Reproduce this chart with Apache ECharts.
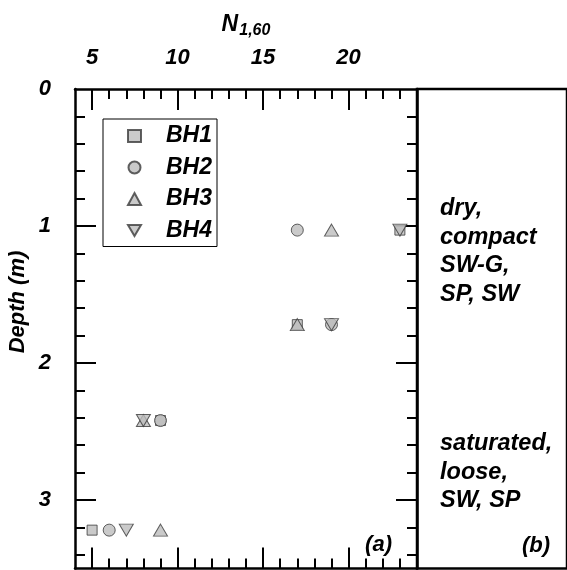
<!DOCTYPE html>
<html>
<head>
<meta charset="utf-8">
<script src="https://cdn.jsdelivr.net/npm/echarts@6/dist/echarts.min.js"></script>
<style>
  html, body { margin: 0; padding: 0; background: #fff; }
  #chart { width: 567px; height: 570px; }
</style>
</head>
<body>
<div id="chart"></div>
<script>
// SPT blow counts N1,60 against depth for four boreholes
const depths = [1.03, 1.72, 2.42, 3.22];
const bh1 = [23, 17, 9, 5];
const bh2 = [17, 19, 9, 6];
const bh3 = [19, 17, 8, 9];
const bh4 = [23, 19, 8, 7];

const xTickLabels = [5, 10, 15, 20];
const yTickLabels = [0, 1, 2, 3];
const xMinorTicks = [5, 6, 7, 8, 9, 10, 11, 12, 13, 14, 15, 16, 17, 18, 19, 20, 21, 22, 23];
const yMinorTicks = [0.2, 0.4, 0.6, 0.8, 1.2, 1.4, 1.6, 1.8, 2.2, 2.4, 2.6, 2.8, 3.2, 3.4];
const yMajorTicks = [1, 2, 3];

const FONT = '"Liberation Sans", Arial, sans-serif';
const boldItalic = { fontFamily: FONT, fontWeight: 'bold', fontStyle: 'italic', color: '#000' };
const frameLine = { show: true, onZero: false, lineStyle: { color: '#000', width: 2.5 } };
const noLine = { show: false, onZero: false };
const tickLine = { color: '#000', width: 2 };

function pairs(xs) { return xs.map((x, i) => [x, depths[i]]); }

const markerStyle = { color: '#bdbdbd', borderColor: '#3a3a3a', borderWidth: 1 };

function xAxisDef(position, ticks, len, withLine, extra) {
  return Object.assign({
    type: 'value', gridIndex: 0, position: position, min: 4, max: 24,
    axisLine: withLine ? frameLine : noLine,
    axisTick: { show: true, inside: true, length: len, customValues: ticks, lineStyle: tickLine },
    axisLabel: { show: false },
    splitLine: { show: false }
  }, extra || {});
}
function yAxisDef(position, ticks, len, withLine, extra) {
  return Object.assign({
    type: 'value', gridIndex: 0, position: position, min: 0, max: 3.5, inverse: true,
    axisLine: withLine ? frameLine : noLine,
    axisTick: { show: true, inside: true, length: len, customValues: ticks, lineStyle: tickLine },
    axisLabel: { show: false },
    splitLine: { show: false }
  }, extra || {});
}

const chart = echarts.init(document.getElementById('chart'), null, { renderer: 'canvas' });

chart.setOption({
  animation: false,
  backgroundColor: '#fff',
  grid: [
    { left: 75, top: 89, width: 342, height: 479.5 },
    { left: 417, top: 89, width: 165, height: 479.5, show: true, borderColor: '#000', borderWidth: 2.5, backgroundColor: 'transparent' }
  ],
  xAxis: [
    xAxisDef('top', xMinorTicks, 10, true, {
      axisLabel: Object.assign({ show: true, customValues: xTickLabels, fontSize: 22, margin: 20 }, boldItalic),
      name: '{n|N}{s|1,60}',
      nameLocation: 'middle',
      nameGap: 50,
      nameTextStyle: {
        rich: {
          n: Object.assign({ fontSize: 23, lineHeight: 26, verticalAlign: 'top' }, boldItalic),
          s: Object.assign({ fontSize: 16, lineHeight: 26, verticalAlign: 'bottom', padding: [12, 0, 0, 1] }, boldItalic)
        }
      }
    }),
    xAxisDef('top', xTickLabels, 21, false),
    xAxisDef('bottom', xMinorTicks, 10, true),
    xAxisDef('bottom', xTickLabels, 21, false),
    { type: 'value', gridIndex: 1, show: false, min: 0, max: 1 }
  ],
  yAxis: [
    yAxisDef('left', yMinorTicks, 10, true, {
      axisLabel: Object.assign({ show: true, customValues: yTickLabels, fontSize: 22, margin: 24 }, boldItalic)
    }),
    yAxisDef('left', yMajorTicks, 21, false),
    yAxisDef('right', yMinorTicks, 10, true),
    yAxisDef('right', yMajorTicks, 21, false),
    { type: 'value', gridIndex: 1, show: false, min: 0, max: 1 }
  ],
  legend: {
    orient: 'vertical',
    left: 103, top: 119,
    padding: [5, 5, 4, 24],
    itemGap: 7.5,
    itemWidth: 13, itemHeight: 12,
    borderColor: '#000', borderWidth: 1,
    backgroundColor: '#fff',
    textStyle: Object.assign({ fontSize: 23, lineHeight: 24, padding: [0, 0, 0, 20] }, boldItalic),
    data: [
      { name: 'BH1' },
      { name: 'BH2' },
      { name: 'BH3' },
      { name: 'BH4', icon: 'path://M0,0 L14,0 L7,12 Z' }
    ]
  },
  series: [
    { name: 'BH1', type: 'scatter', xAxisIndex: 0, yAxisIndex: 0, symbol: 'rect', symbolSize: 10, itemStyle: markerStyle, data: pairs(bh1) },
    { name: 'BH2', type: 'scatter', xAxisIndex: 0, yAxisIndex: 0, symbol: 'circle', symbolSize: 12, itemStyle: markerStyle, data: pairs(bh2) },
    { name: 'BH3', type: 'scatter', xAxisIndex: 0, yAxisIndex: 0, symbol: 'triangle', symbolSize: [14, 12], itemStyle: markerStyle, data: pairs(bh3) },
    { name: 'BH4', type: 'scatter', xAxisIndex: 0, yAxisIndex: 0, symbol: 'triangle', symbolRotate: 180, symbolSize: [14, 12], itemStyle: markerStyle, data: pairs(bh4) }
  ],
  graphic: [
    { type: 'text', x: 18, y: 302, rotation: Math.PI / 2,
      style: { text: 'Depth (m)', fontSize: 22, align: 'center', verticalAlign: 'middle', fill: '#000', fontFamily: FONT, fontWeight: 'bold', fontStyle: 'italic' } },
    { type: 'text', x: 440, y: 194,
      style: { text: 'dry,\ncompact\nSW-G,\nSP, SW', fontSize: 23.5, lineHeight: 28.7, fill: '#000', fontFamily: FONT, fontWeight: 'bold', fontStyle: 'italic' } },
    { type: 'text', x: 440, y: 429,
      style: { text: 'saturated,\nloose,\nSW, SP', fontSize: 23.5, lineHeight: 28.7, fill: '#000', fontFamily: FONT, fontWeight: 'bold', fontStyle: 'italic' } },
    { type: 'text', x: 392, y: 545,
      style: { text: '(a)', fontSize: 22, align: 'right', verticalAlign: 'middle', fill: '#000', fontFamily: FONT, fontWeight: 'bold', fontStyle: 'italic' } },
    { type: 'text', x: 550, y: 546,
      style: { text: '(b)', fontSize: 22, align: 'right', verticalAlign: 'middle', fill: '#000', fontFamily: FONT, fontWeight: 'bold', fontStyle: 'italic' } }
  ]
});
</script>
</body>
</html>
